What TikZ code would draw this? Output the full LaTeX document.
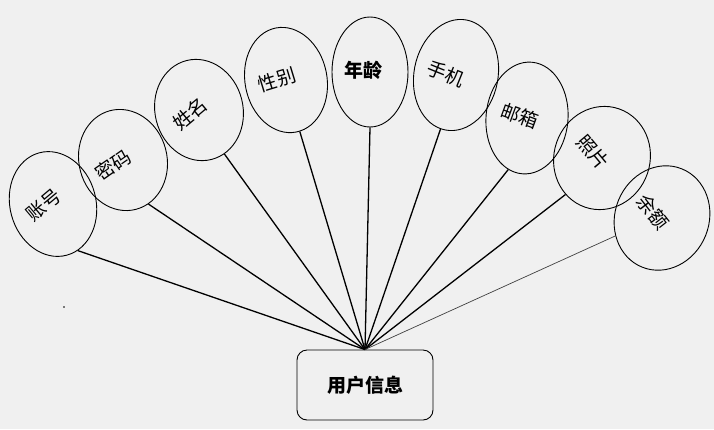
\documentclass[tikz,border=0pt]{standalone}
\usepackage{fontspec}
\newfontfamily\cjk{Noto Sans CJK SC}
\usetikzlibrary{shapes.geometric}
\definecolor{bg}{RGB}{240,240,240}
\begin{document}
\begin{tikzpicture}[x=1pt,y=-1pt,
  attr/.style={ellipse, draw=black, line width=0.9pt, inner sep=0pt},
  lbl/.style={font=\cjk\fontsize{19}{19}\selectfont, inner sep=0pt},
  link/.style={line width=1.3pt}]
\fill [bg] (0,0) rectangle (714,429);
\useasboundingbox (0,0) rectangle (714,429);
\node [attr, minimum width=86pt, minimum height=106pt, rotate=15] (zh) at (53,204) {};
\node [attr, minimum width=88pt, minimum height=102pt, rotate=15] (mm) at (123,160) {};
\node [attr, minimum width=88pt, minimum height=102pt, rotate=14] (xm) at (199,110) {};
\node [attr, minimum width=82pt, minimum height=106pt, rotate=11] (xb) at (286,80) {};
\node [attr, minimum width=76pt, minimum height=110pt] (nl) at (370,72) {};
\node [attr, minimum width=84pt, minimum height=112pt, rotate=-11] (sj) at (456,75) {};
\node [attr, minimum width=82pt, minimum height=112pt, rotate=-5] (yx) at (527,118) {};
\node [attr, minimum width=96pt, minimum height=104pt, rotate=-19] (zp) at (602,158) {};
\node [attr, minimum width=94pt, minimum height=106pt, rotate=-22] (ye) at (662,218) {};
\node [lbl, rotate=40] (zht) at (44,205) {账号};
\node [lbl, rotate=35] (mmt) at (113,165) {密码};
\node [lbl, rotate=40] (xmt) at (190,114) {姓名};
\node [lbl, rotate=17] (xbt) at (277,80) {性别};
\node [lbl, font=\cjk\bfseries\fontsize{19}{19}\selectfont] (nlt) at (363,70) {年龄};
\node [lbl, rotate=-22] (sjt) at (446,74) {手机};
\node [lbl, rotate=-20] (yxt) at (520,116) {邮箱};
\node [lbl, rotate=-50] (zpt) at (593,152) {照片};
\node [lbl, rotate=-52] (yet) at (653,212) {余额};
\node [draw=black, line width=0.9pt, rounded corners=10pt, minimum width=136pt, minimum height=70pt,
  font=\cjk\bfseries\fontsize{19}{19}\selectfont] (info) at (365,385) {用户信息};
\draw [link] (info.north) -- (zh.283);
\draw [link] (info.north) -- (mm.285);
\draw [link] (info.north) -- (xm.286);
\draw [link] (info.north) -- (xb.274);
\draw [link] (info.north) -- (nl.south);
\draw [link] (info.north) -- (sj.265);
\draw [link] (info.north) -- (yx.255);
\draw [link] (info.north) -- (zp.244);
\draw [link, line width=0.7pt, black!75] (info.north) -- (ye.223);
\fill (64,307) circle (0.9pt);
\end{tikzpicture}
\end{document}
